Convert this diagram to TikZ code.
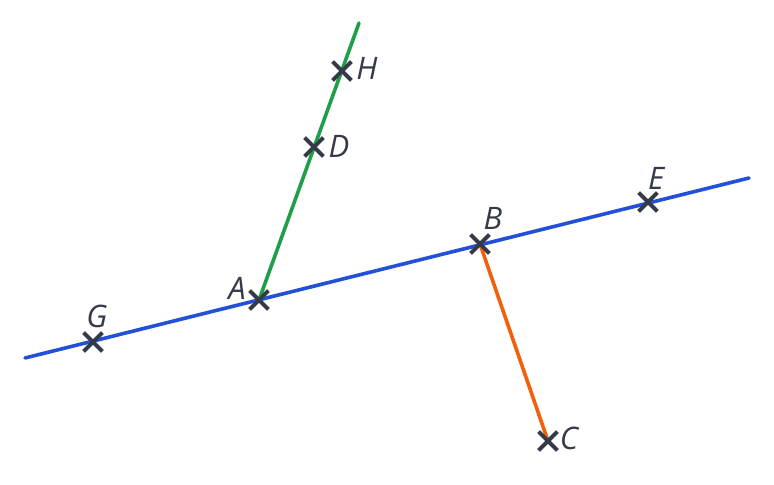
\documentclass[tikz,border=0pt]{standalone}
\usepackage{fontspec}
\setmainfont{Open Sans}
\usetikzlibrary{shapes.misc}

\definecolor{ptdark}{HTML}{343A48}
\definecolor{lineblue}{HTML}{2250D8}
\definecolor{linegreen}{HTML}{1FA048}
\definecolor{lineorange}{HTML}{F2600C}

\tikzset{
  pt/.style={cross out, draw=ptdark, line width=1.8pt, minimum size=7.5pt, inner sep=0pt},
  ptlabel/.style={text=ptdark, font=\fontsize{15.5}{17}\selectfont\itshape, inner sep=0pt},
  seg/.style={line width=1.8pt, line cap=round}
}

\begin{document}
\begin{tikzpicture}[x=0.5pt, y=-0.5pt]
\useasboundingbox (0,0) rectangle (774,485);
% points
\coordinate (L1) at (25,358);
\coordinate (L2) at (749,178);
\coordinate (Hend) at (359,23);
\node[pt] (G) at (93,342) {};
\node[pt] (A) at (259,300) {};
\node[pt] (B) at (480,244) {};
\node[pt] (E) at (648,202) {};
\node[pt] (D) at (314,147) {};
\node[pt] (H) at (342,71) {};
\node[pt] (C) at (548,441) {};
% lines
\draw[seg, lineblue] (L1) -- (L2);
\draw[seg, linegreen] (A.center) -- (Hend);
\draw[seg, lineorange] (B.center) -- (C.center);
% redraw crosses on top
\foreach \p in {G,A,B,E,D,H,C}{
  \node[pt] at (\p) {};
}
% labels
\node[ptlabel] (lG) at (97,316) {G};
\node[ptlabel] (lA) at (237,288) {A};
\node[ptlabel] (lB) at (493,218) {B};
\node[ptlabel] (lE) at (656,178) {E};
\node[ptlabel] (lH) at (367,68) {H};
\node[ptlabel] (lD) at (339,146) {D};
\node[ptlabel] (lC) at (569,438) {C};
\end{tikzpicture}
\end{document}
